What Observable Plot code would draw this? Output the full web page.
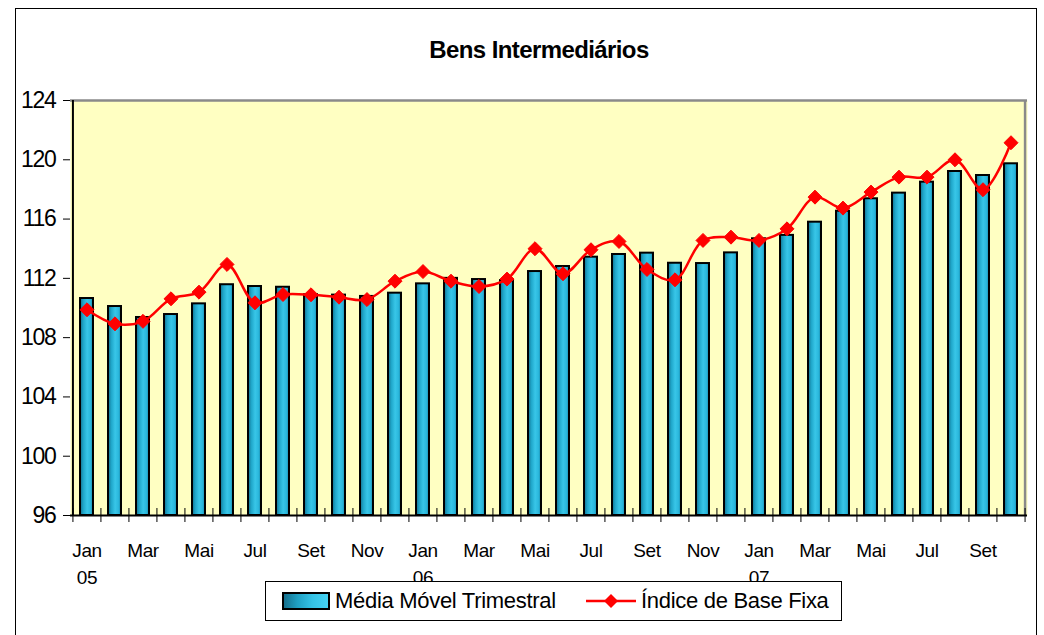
<!DOCTYPE html>
<html>
<head>
<meta charset="utf-8">
<script src="https://cdn.jsdelivr.net/npm/d3@7"></script>
<script src="https://cdn.jsdelivr.net/npm/@observablehq/plot@0.6"></script>
<style>
  html, body { margin: 0; padding: 0; background: #fff; }
  body { width: 1044px; height: 635px; position: relative; overflow: hidden; font-family: "Liberation Sans", Arial, sans-serif; }
  #frame { position: absolute; left: 15px; top: 8px; width: 1022px; height: 640px; border: 1px solid #000; box-sizing: border-box; }
  #title { position: absolute; left: 15px; width: 1048px; top: 38px; text-align: center; font-weight: bold; font-size: 24px; line-height: 24px; letter-spacing: -0.6px; color: #000; }
  #chart { position: absolute; left: 0; top: 0; }
  #chart [aria-label="y-axis tick label"] { letter-spacing: -1.3px; }
  #chart [aria-label="text"] { letter-spacing: -0.4px; }
  #legend { position: absolute; left: 265px; top: 581px; width: 577px; height: 40px; border: 1px solid #000; box-sizing: border-box; background: #fff; }
  .ltext { position: absolute; top: 8px; font-size: 22px; line-height: 22px; letter-spacing: -0.3px; color: #000; white-space: nowrap; }
  #swatchBar { position: absolute; left: 16px; top: 10px; width: 48px; height: 18px; border: 2px solid #000; box-sizing: border-box;
    background: linear-gradient(90deg, #156f8c 0%, #1f9fc2 30%, #35c3e6 65%, #45d2f3 100%); }
  #swatchLine { position: absolute; left: 320px; top: 8px; }
</style>
</head>
<body>
<div id="frame"></div>
<div id="title">Bens Intermediários</div>
<div id="chart"></div>
<div id="legend">
  <div id="swatchBar"></div>
  <div class="ltext" style="left:69px">Média Móvel Trimestral</div>
  <svg id="swatchLine" width="50" height="22"><line x1="0" x2="50" y1="11" y2="11" stroke="#ff0000" stroke-width="2.5"/><path d="M25,4L32,11L25,18L18,11Z" fill="#ff0000"/></svg>
  <div class="ltext" style="left:375px">Índice de Base Fixa</div>
</div>
<script>
// ---- data ----
const monthNames = ["Jan","Fev","Mar","Abr","Mai","Jun","Jul","Ago","Set","Out","Nov","Dez"];
const years = ["05","06","07"];
const categories = [
  "Jan 05","Fev 05","Mar 05","Abr 05","Mai 05","Jun 05","Jul 05","Ago 05","Set 05","Out 05","Nov 05","Dez 05",
  "Jan 06","Fev 06","Mar 06","Abr 06","Mai 06","Jun 06","Jul 06","Ago 06","Set 06","Out 06","Nov 06","Dez 06",
  "Jan 07","Fev 07","Mar 07","Abr 07","Mai 07","Jun 07","Jul 07","Ago 07","Set 07","Out 07"
];
const mediaMovel = [
  110.64,110.10,109.36,109.56,110.28,111.57,111.45,111.40,110.90,110.87,110.78,111.00,
  111.63,112.00,111.92,111.85,112.46,112.80,113.43,113.61,113.70,113.02,113.00,113.72,
  114.67,114.90,115.79,116.53,117.37,117.75,118.49,119.21,118.94,119.73
];
const indiceBaseFixa = [
  109.88,108.93,109.10,110.62,111.07,112.94,110.35,110.91,110.89,110.73,110.57,111.81,
  112.46,111.81,111.45,111.95,114.00,112.31,113.93,114.49,112.60,111.90,114.56,114.78,
  114.56,115.34,117.48,116.74,117.82,118.83,118.83,120.00,117.98,121.15
];
const yTicks = [96,100,104,108,112,116,120,124];
const yDomain = [96,124];

// ---- build table ----
const data = categories.map((c, i) => ({cat: c, avg: mediaMovel[i], idx: indiceBaseFixa[i]}));
const tickLabels = categories
  .map((c, i) => {
    const [m, y] = c.split(" ");
    if (i % 2 !== 0) return null;
    return {cat: c, label: m === "Jan" ? `${m}\n${y}` : m};
  })
  .filter(d => d);

const W = 1044, H = 635, ML = 70, MR = 17, MT = 100, MB = 120;
const step = (W - ML - MR) / categories.length;

const chart = Plot.plot({
  width: W, height: H,
  marginLeft: ML, marginRight: MR, marginTop: MT, marginBottom: MB,
  style: {fontFamily: "'Liberation Sans', Arial, sans-serif", background: "transparent", color: "#000", overflow: "visible"},
  x: {domain: categories, paddingInner: 0.55, paddingOuter: 0.275, axis: null},
  y: {domain: yDomain, axis: null},
  marks: [
    Plot.frame({fill: "#FFFFC2", stroke: "none"}),
    Plot.barY(data, {x: "cat", y1: yDomain[0], y2: "avg", fill: "url(#barGrad)", stroke: "#000", strokeWidth: 2}),
    Plot.lineY(data, {x: "cat", y: "idx", stroke: "#ff0000", strokeWidth: 2.5, curve: "catmull-rom"}),
    Plot.dot(data, {x: "cat", y: "idx", symbol: "diamond2", r: 6.3, fill: "#ff0000", stroke: "#ff0000", strokeWidth: 1}),
    // plot border: gray top & right, black left & bottom
    Plot.ruleY([yDomain[1]], {stroke: "#8a8a8a", strokeWidth: 2.5}),
    Plot.ruleX([categories[categories.length - 1]], {dx: step / 2, y1: yDomain[0], y2: yDomain[1], stroke: "#8a8a8a", strokeWidth: 2.5}),
    Plot.ruleX([categories[0]], {dx: -step / 2, y1: yDomain[0], y2: yDomain[1], stroke: "#000", strokeWidth: 2}),
    Plot.ruleY([yDomain[0]], {stroke: "#000", strokeWidth: 2}),
    // category boundary ticks
    Plot.ruleX(categories, {dx: -step / 2, y1: yDomain[0], y2: yDomain[0], insetTop: -7, insetBottom: -7, stroke: "#000", strokeWidth: 1}),
    Plot.ruleX([categories[categories.length - 1]], {dx: step / 2, y1: yDomain[0], y2: yDomain[0], insetTop: -7, insetBottom: -7, stroke: "#000", strokeWidth: 1}),
    Plot.axisY({ticks: yTicks, tickSize: 7, tickPadding: 8, fontSize: 23, label: null, tickFormat: d => String(d)}),
    Plot.text(tickLabels, {x: "cat", text: "label", frameAnchor: "bottom", dy: 23, lineAnchor: "top", lineHeight: 1.4, fontSize: 19, fill: "#000"})
  ]
});

const defs = d3.select(chart).insert("defs", ":first-child");
const g = defs.append("linearGradient").attr("id", "barGrad").attr("x1", "0").attr("x2", "1").attr("y1", "0").attr("y2", "0");
[["0%", "#146d8a"], ["25%", "#1fa6c9"], ["55%", "#38c6e8"], ["80%", "#2bb8dd"], ["100%", "#1888ab"]]
  .forEach(([o, c]) => g.append("stop").attr("offset", o).attr("stop-color", c));

document.getElementById("chart").appendChild(chart);
</script>
</body>
</html>
